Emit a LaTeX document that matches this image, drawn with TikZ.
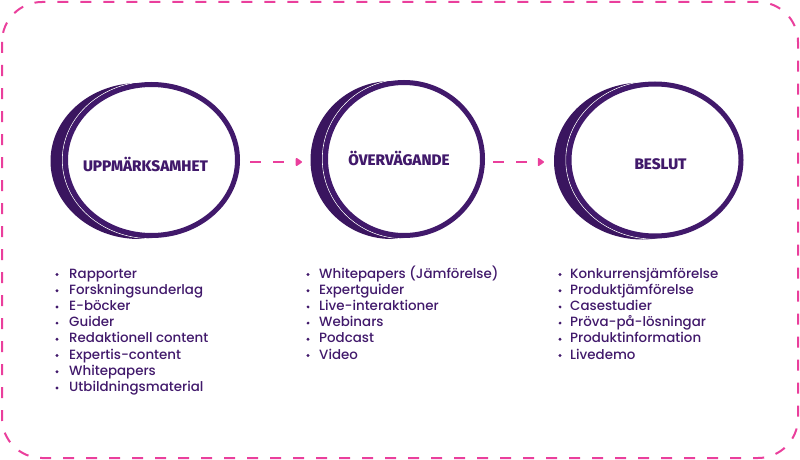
\documentclass[tikz,border=0pt]{standalone}
\usepackage{fontspec}
\setmainfont{Poppins}
\IfFontExistsTF{Poppins Medium}{\newfontfamily\itemfont{Poppins Medium}}{\newfontfamily\itemfont{Poppins}}
\IfFontExistsTF{Fira Sans ExtraBold}{\newfontfamily\rubrikfont{Fira Sans ExtraBold}}{\newfontfamily\rubrikfont{Fira Sans}[UprightFont=*-Bold]}
\usetikzlibrary{arrows.meta}
\definecolor{lila}{HTML}{41196B}
\definecolor{lilamork}{HTML}{3A155F}
\definecolor{rosa}{HTML}{EA3F9C}
\tikzset{
  ram/.style={rosa, line width=2pt, dash pattern=on 11pt off 12pt, rounded corners=40pt},
  pil/.style={rosa, line width=2.5pt, dash pattern=on 11pt off 12pt, -{Triangle[round,length=7pt,width=9pt]}},
  ring/.style={lila, line width=5pt},
  rubrik/.style={lila, font=\rubrikfont\fontsize{15.3}{18}\selectfont, anchor=base},
  punkt/.style={lila, font=\itemfont\fontsize{13.4}{16}\selectfont, anchor=base west, inner sep=0pt},
}
\begin{document}
\begin{tikzpicture}[x=1pt,y=-1pt]
	\useasboundingbox (0,0) rectangle (800,460);
	\draw[ram] (2,2) rectangle (798,458);
	% cirklarna
	\foreach \cx/\cy/\rx/\ry/\n in {151.5/160/86/75.5/1, 404/159/78.5/76.5/2, 655/160/86/76/3}{
		\coordinate (c\n) at (\cx,\cy);
		\fill[lilamork] (\cx-12.5,\cy+1) ellipse ({\rx+2.5} and {\ry+2.5});
		\draw[white, line width=0.6pt] (c\n) ellipse ({\rx+3.2} and {\ry+3.2});
		\fill[white] (c\n) ellipse ({\rx} and {\ry});
		\draw[ring] (c\n) ellipse ({\rx} and {\ry});
	}
	\node[rubrik] (r1) at (145.5,171) {UPPMÄRKSAMHET};
	\node[rubrik] (r2) at (399,165.5) {ÖVERVÄGANDE};
	\node[rubrik] (r3) at (660.5,169.5) {BESLUT};
	% pilar
	\coordinate (p1s) at (250,162);
	\coordinate (p1e) at (302,162);
	\coordinate (p2s) at (493,162);
	\coordinate (p2e) at (544,162);
	\draw[pil] (p1s) -- (p1e);
	\draw[pil] (p2s) -- (p2e);
	% listorna
	\foreach \t [count=\i] in {Rapporter, Forskningsunderlag, E-böcker, Guider, Redaktionell content, Expertis-content, Whitepapers, Utbildningsmaterial}{
		\fill[lila] (57,{258.3+16.2*\i}) circle (1.6);
		\node[punkt] (a\i) at (69,{261.8+16.2*\i}) {\t};
	}
	\foreach \t [count=\i] in {Whitepapers (Jämförelse), Expertguider, Live-interaktioner, Webinars, Podcast, Video}{
		\fill[lila] (308,{258.3+16.2*\i}) circle (1.6);
		\node[punkt] (b\i) at (319,{261.8+16.2*\i}) {\t};
	}
	\foreach \t [count=\i] in {Konkurrensjämförelse, Produktjämförelse, Casestudier, Pröva-på-lösningar, Produktinformation, Livedemo}{
		\fill[lila] (560,{258.3+16.2*\i}) circle (1.6);
		\node[punkt] (k\i) at (570,{261.8+16.2*\i}) {\t};
	}
\end{tikzpicture}
\end{document}
